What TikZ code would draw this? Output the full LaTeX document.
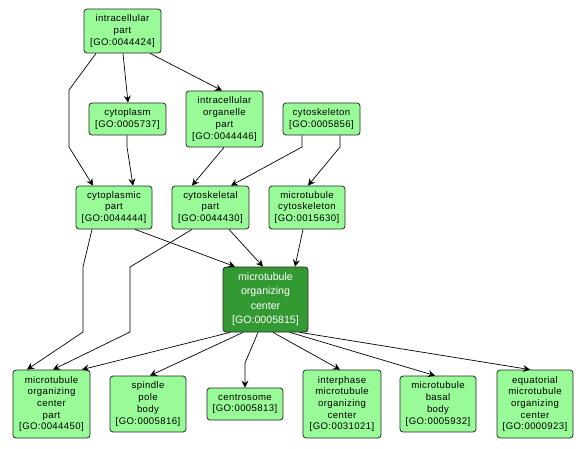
\documentclass[tikz,border=0pt]{standalone}
\usepackage{fontspec}
\setmainfont{Liberation Sans}
\newfontfamily\blackfont[LetterSpace=4]{Liberation Sans}
\usetikzlibrary{arrows.meta}
\definecolor{lightgo}{RGB}{152,251,152}
\definecolor{darkgo}{RGB}{51,153,51}
\tikzset{
  goterm/.style={draw=black!85, line width=0.8pt, rounded corners=3pt, fill=lightgo,
    inner sep=0pt, align=center, font=\blackfont\fontsize{9.6}{11.7}\selectfont},
  goroot/.style={goterm, fill=darkgo, text=white, font=\fontsize{10.6}{14.5}\selectfont},
  isa/.style={draw=black, line width=0.7pt, -{Stealth[length=7pt,width=7pt,inset=2.5pt]}},
}
\begin{document}
\begin{tikzpicture}[x=1pt,y=-1pt]
\useasboundingbox (0,0) rectangle (587,448);
\fill[white] (0,0) rectangle (587,448);
% nodes
\node[goterm, minimum width=77pt, minimum height=44pt] (ip) at (122.5,31) {intracellular\\part\\{}[GO:0044424]};
\node[goterm, minimum width=77pt, minimum height=32pt] (cyto) at (127.5,119) {cytoplasm\\{}[GO:0005737]};
\node[goterm, minimum width=77pt, minimum height=56pt] (iop) at (224.5,119) {intracellular\\organelle\\part\\{}[GO:0044446]};
\node[goterm, minimum width=77pt, minimum height=32pt] (csk) at (321.5,119) {cytoskeleton\\{}[GO:0005856]};
\node[goterm, minimum width=76pt, minimum height=43pt] (cpp) at (114,207.5) {cytoplasmic\\part\\{}[GO:0044444]};
\node[goterm, minimum width=77pt, minimum height=43pt] (cskp) at (210.5,207.5) {cytoskeletal\\part\\{}[GO:0044430]};
\node[goterm, minimum width=76pt, minimum height=43pt] (mtc) at (307,207.5) {microtubule\\cytoskeleton\\{}[GO:0015630]};
\node[goroot, minimum width=85pt, minimum height=65pt] (mtoc) at (265.5,299.5) {microtubule\\organizing\\center\\{}[GO:0005815]};
\node[goterm, minimum width=77pt, minimum height=68pt] (mtocp) at (51.5,404) {microtubule\\organizing\\center\\part\\{}[GO:0044450]};
\node[goterm, minimum width=76pt, minimum height=56pt] (spb) at (148,404) {spindle\\pole\\body\\{}[GO:0005816]};
\node[goterm, minimum width=76pt, minimum height=32pt] (cent) at (245,404) {centrosome\\{}[GO:0005813]};
\node[goterm, minimum width=78pt, minimum height=68pt] (imoc) at (342,404) {interphase\\microtubule\\organizing\\center\\{}[GO:0031021]};
\node[goterm, minimum width=76pt, minimum height=56pt] (mbb) at (438,404) {microtubule\\basal\\body\\{}[GO:0005932]};
\node[goterm, minimum width=76pt, minimum height=68pt] (emoc) at (535,404) {equatorial\\microtubule\\organizing\\center\\{}[GO:0000923]};
% waypoints
\coordinate (w1a) at (69,90);
\coordinate (w1b) at (69,147);
\coordinate (w4) at (127,147);
\coordinate (w6) at (302,147);
\coordinate (w7) at (340,147);
\coordinate (w11a) at (83,267);
\coordinate (w11b) at (83,332);
\coordinate (w12a) at (130,267);
\coordinate (w12b) at (130,332);
\coordinate (w15) at (245,363);
% edges
\draw[isa] ([xshift=-26.5pt]ip.south) -- (w1a) -- (w1b) -- ([xshift=-21pt]cpp.north);
\draw[isa] ([xshift=0.5pt]ip.south) -- ([xshift=0.5pt]cyto.north);
\draw[isa] ([xshift=27.5pt]ip.south) -- ([xshift=-2.5pt]iop.north);
\draw[isa] ([xshift=-0.5pt]cyto.south) -- (w4) -- ([xshift=19pt]cpp.north);
\draw[isa] ([xshift=-0.5pt]iop.south) -- ([xshift=-18.5pt]cskp.north);
\draw[isa] ([xshift=-19.5pt]csk.south) -- (w6) -- ([xshift=20.5pt]cskp.north);
\draw[isa] ([xshift=18.5pt]csk.south) -- (w7) -- ([xshift=1pt]mtc.north);
\draw[isa] ([xshift=21pt]cpp.south) -- ([xshift=-30.5pt]mtoc.north);
\draw[isa] ([xshift=18.5pt]cskp.south) -- ([xshift=-2.5pt]mtoc.north);
\draw[isa] ([xshift=-4pt]mtc.south) -- ([xshift=29.5pt]mtoc.north);
\draw[isa] ([xshift=-22pt]cpp.south) -- (w11a) -- (w11b) -- ([xshift=-24.5pt]mtocp.north);
\draw[isa] ([xshift=-18.5pt]cskp.south) -- (w12a) -- (w12b) -- ([xshift=1.5pt]mtocp.north);
\draw[isa] ([xshift=-35.5pt]mtoc.south) -- ([xshift=30.5pt]mtocp.north);
\draw[isa] ([xshift=-22.5pt]mtoc.south) -- ([xshift=2pt]spb.north);
\draw[isa] ([xshift=-7.5pt]mtoc.south) -- (w15) -- (cent.north);
\draw[isa] ([xshift=7.5pt]mtoc.south) -- ([xshift=-2pt]imoc.north);
\draw[isa] ([xshift=24.5pt]mtoc.south) -- ([xshift=-3pt]mbb.north);
\draw[isa] ([xshift=34.5pt]mtoc.south) -- ([xshift=-5pt]emoc.north);
\end{tikzpicture}
\end{document}
